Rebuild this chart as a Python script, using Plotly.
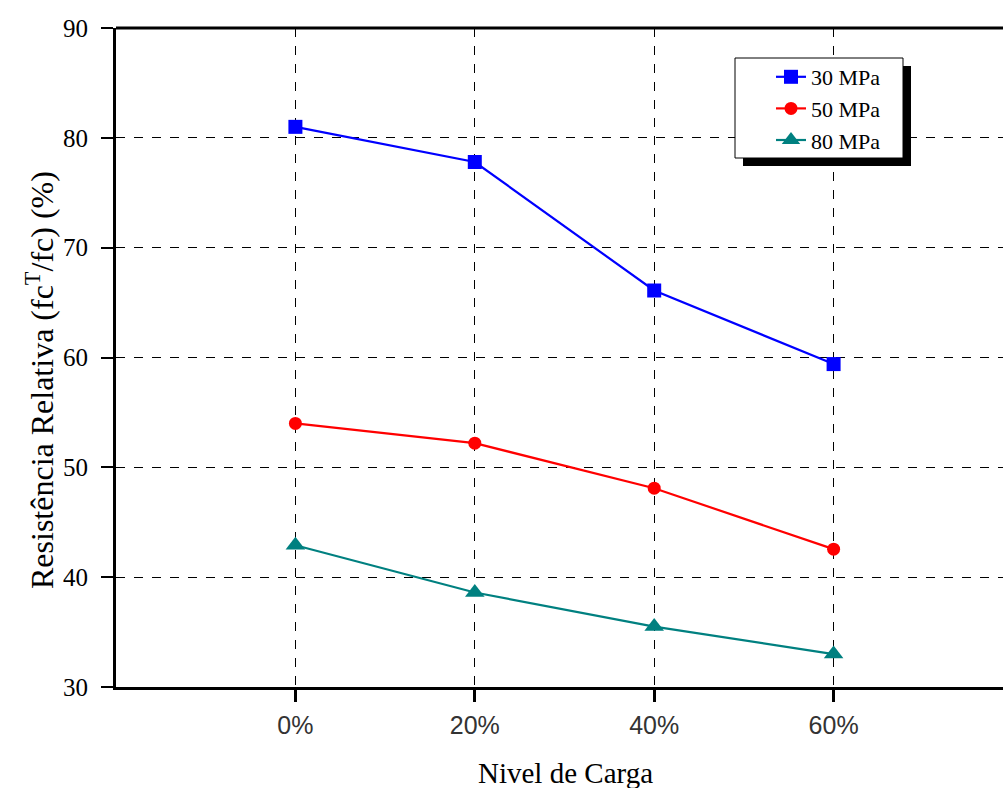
import plotly.graph_objects as go

categories = ["0%", "20%", "40%", "60%"]
s30 = [81.0, 77.8, 66.1, 59.4]
s50 = [54.0, 52.2, 48.1, 42.55]
s80 = [42.9, 38.6, 35.5, 33.0]
series_names = ["30 MPa", "50 MPa", "80 MPa"]
y_ticks = [30, 40, 50, 60, 70, 80, 90]

W, H = 1003, 788
L, R, T, B = 116, 0, 28, 101
pw, ph = W - L - R, H - T - B

xidx = list(range(len(categories)))

fig = go.Figure()
styles = [
    ("#0000FF", "square", 14),
    ("#FF0000", "circle", 13),
    ("#008080", "triangle-up", 17),
]
for name, vals, (col, sym, sz) in zip(series_names, [s30, s50, s80], styles):
    fig.add_trace(go.Scatter(
        x=xidx, y=vals, name=name, mode="lines+markers", legendgroup=name,
        line=dict(color=col, width=2.2),
        marker=dict(color=col, symbol=sym, size=sz, line=dict(width=0)),
    ))

def px2paper_x(px):
    return (px - L) / pw

def px2paper_y(py):
    return (H - B - py) / ph

# legend shadow and box
fig.add_shape(type="rect", xref="paper", yref="paper",
              x0=px2paper_x(743), x1=px2paper_x(911),
              y0=px2paper_y(166), y1=px2paper_y(66),
              fillcolor="black", line=dict(width=0), layer="above")
fig.add_shape(type="rect", xref="paper", yref="paper",
              x0=px2paper_x(735), x1=px2paper_x(903),
              y0=px2paper_y(158), y1=px2paper_y(58),
              fillcolor="white", line=dict(color="black", width=1), layer="above")

# axis titles as annotations for exact placement
fig.add_annotation(
    text="Resistência Relativa (fc<sup>T</sup>/fc) (%)",
    xref="paper", yref="paper", x=px2paper_x(40), y=px2paper_y(380),
    xanchor="center", yanchor="middle", textangle=-90, showarrow=False,
    font=dict(family="Liberation Serif", size=32, color="black"),
)
fig.add_annotation(
    text="Nivel de Carga",
    xref="paper", yref="paper", x=px2paper_x(565), y=px2paper_y(773),
    xanchor="center", yanchor="middle", showarrow=False,
    font=dict(family="Liberation Serif", size=29, color="black"),
)

fig.update_layout(
    width=W, height=H,
    margin=dict(l=L, r=R, t=T, b=B, pad=0),
    paper_bgcolor="white", plot_bgcolor="white",
    showlegend=True,
    legend=dict(
        x=px2paper_x(771), y=px2paper_y(56), xanchor="left", yanchor="top",
        bgcolor="rgba(0,0,0,0)", borderwidth=0,
        font=dict(family="Liberation Serif", size=22, color="black"),
        tracegroupgap=0, itemwidth=30,
    ),
    xaxis=dict(
        range=[-1, -1 + pw / 179.4],
        tickmode="array", tickvals=xidx, ticktext=categories,
        ticks="outside", ticklen=12, tickwidth=3, tickcolor="black",
        showline=True, linecolor="black", linewidth=3, mirror=False,
        showgrid=True, gridcolor="black", griddash="dash", gridwidth=1.3,
        zeroline=False, ticklabelstandoff=2,
        tickfont=dict(family="Liberation Sans", size=25, color="#333"),
    ),
    yaxis=dict(
        range=[30, 90],
        tickmode="array", tickvals=y_ticks,
        ticks="outside", ticklen=12, tickwidth=2, tickcolor="black",
        showline=True, linecolor="black", linewidth=3,
        showgrid=True, gridcolor="black", griddash="dash", gridwidth=1.3,
        zeroline=False, ticklabelstandoff=8,
        tickfont=dict(family="Liberation Serif", size=25, color="black"),
    ),
)
# top border line
fig.add_shape(type="line", xref="paper", yref="paper", x0=0, x1=1, y0=1, y1=1,
              line=dict(color="black", width=3))

fig.write_html("out.html", config={"displayModeBar": False},
               post_script="document.body.style.margin='0px';")
